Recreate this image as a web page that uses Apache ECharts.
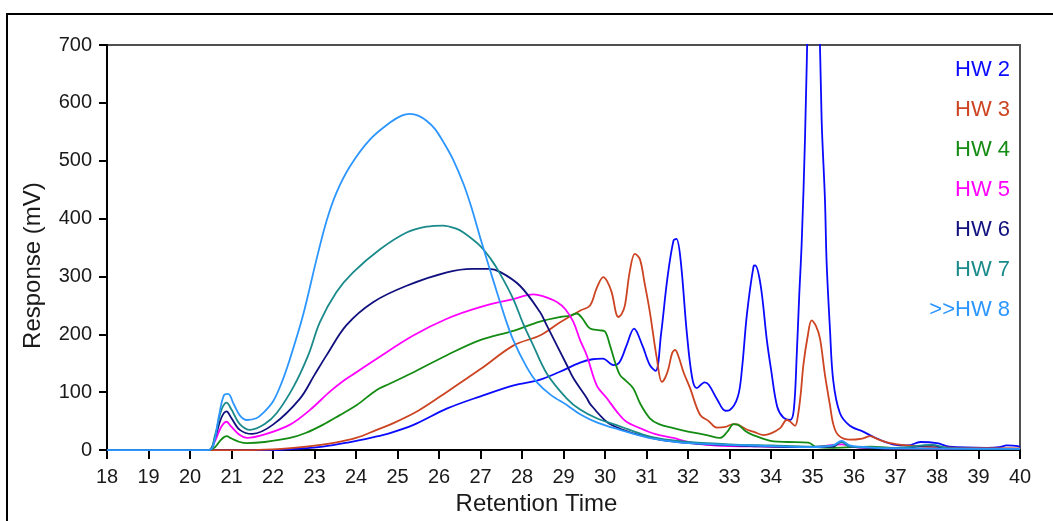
<!DOCTYPE html>
<html>
<head>
<meta charset="utf-8">
<title>Retention Time chromatogram</title>
<script src="https://cdn.jsdelivr.net/npm/echarts@6/dist/echarts.min.js"></script>
<style>
  html, body { margin: 0; padding: 0; background: #ffffff; }
  #chart { width: 1053px; height: 521px; }
</style>
</head>
<body>
<div id="chart"></div>
<script>
// Detector response (mV) against retention time (min), one trace per sample.
const seriesNames = ['HW 2', 'HW 3', 'HW 4', 'HW 5', 'HW 6', 'HW 7', 'HW 8'];
const seriesColors = ['#0a0aff', '#cc4422', '#148c14', '#ff00ff', '#10107e', '#1a8a8a', '#2c96ff'];
const legendLabels = ['HW 2', 'HW 3', 'HW 4', 'HW 5', 'HW 6', 'HW 7', '>>HW 8'];

const xTicks = { min: 18, max: 40, step: 1 };
const yTicks = { min: 0, max: 700, step: 100 };

const hw2 = [[18,0],[22.0,0],[22.5,2],[23.2,6],[23.8,13],[24.4,22],[24.8,29],[25.4,44],[26.2,72],[27.0,93],[27.8,112],[28.4,121],[28.9,135],[29.4,151],[29.7,157],[29.95,158],[30.2,147],[30.35,152],[30.52,181],[30.7,210],[30.9,181],[31.08,147],[31.22,137],[31.35,200],[31.5,295],[31.65,362],[31.72,365],[31.82,330],[31.97,204],[32.1,125],[32.21,107],[32.4,117],[32.5,113],[32.7,88],[32.9,68],[33.0,69],[33.2,92],[33.3,140],[33.42,235],[33.58,318],[33.62,319],[33.75,285],[33.9,190],[34.0,140],[34.15,75],[34.3,56],[34.46,52],[34.55,70],[34.62,164],[34.68,267],[34.74,359],[34.82,540],[34.9,800],[35.0,1150],[35.15,800],[35.22,571],[35.3,433],[35.34,325],[35.42,210],[35.5,120],[35.66,64],[35.9,42],[36.22,32],[36.55,20],[37.0,9],[37.3,8],[37.6,14],[38.0,12],[38.3,6],[39.2,4],[39.5,5],[39.68,8],[39.95,7],[40,5]];

const hw3 = [[18,0],[21.5,0],[22.2,2],[22.8,6],[23.5,13],[24.0,21],[24.5,35],[24.82,44],[25.5,68],[26.2,101],[27.0,140],[27.8,181],[28.43,198],[28.92,221],[29.4,241],[29.64,250],[29.8,280],[29.96,299],[30.05,292],[30.16,273],[30.32,230],[30.4,235],[30.48,250],[30.6,310],[30.72,339],[30.84,330],[30.95,290],[31.08,239],[31.25,158],[31.37,118],[31.45,125],[31.53,141],[31.62,168],[31.69,173],[31.78,160],[31.89,135],[32.05,107],[32.29,61],[32.5,50],[32.69,39],[32.9,40],[33.09,45],[33.2,44],[33.4,36],[33.57,32],[33.82,26],[34.0,29],[34.22,38],[34.38,52],[34.45,50],[34.58,42],[34.65,60],[34.72,100],[34.78,147],[34.88,195],[34.98,224],[35.08,215],[35.18,193],[35.3,130],[35.42,78],[35.5,45],[35.62,26],[35.9,18],[36.2,20],[36.39,24],[36.6,18],[36.87,12],[37.27,8],[37.7,6],[38.5,4],[40,3]];

const hw4 = [[18,0],[20.45,0],[20.6,5],[20.75,18],[20.88,24],[21.0,20],[21.2,14],[21.37,12],[21.8,14],[22.41,21],[22.8,30],[23.21,44],[23.6,60],[24.02,78],[24.5,104],[24.82,115],[25.4,135],[26.19,164],[26.99,190],[27.79,206],[28.43,222],[28.92,230],[29.15,232],[29.32,236],[29.45,228],[29.64,210],[29.88,207],[30.0,205],[30.12,181],[30.25,150],[30.36,130],[30.5,120],[30.68,107],[30.85,80],[31.08,55],[31.3,45],[31.65,38],[32.0,32],[32.45,26],[32.77,21],[32.95,32],[33.1,45],[33.2,44],[33.4,32],[33.57,26],[34.06,15],[34.4,14],[34.9,13],[35.1,5],[35.5,4],[36.4,6],[37,3],[40,2]];

const hw5 = [[18,0],[20.45,0],[20.6,15],[20.75,40],[20.88,49],[21.0,40],[21.2,26],[21.37,21],[21.8,27],[22.41,44],[22.9,70],[23.37,101],[23.7,120],[24.02,135],[24.5,158],[25.38,198],[26.19,227],[26.99,247],[27.79,261],[28.27,269],[28.5,266],[28.84,256],[29.05,243],[29.24,221],[29.4,190],[29.56,164],[29.8,112],[30.04,90],[30.28,67],[30.5,50],[30.84,38],[31.2,28],[31.65,21],[32.0,14],[32.45,9],[33,7],[34,6],[35,5],[35.7,10],[36,5],[37,3],[40,2]];

const hw6 = [[18,0],[20.45,0],[20.6,20],[20.75,55],[20.88,67],[21.0,55],[21.2,35],[21.5,28],[22.0,44],[22.65,89],[23.0,130],[23.3,165],[23.77,216],[24.42,256],[25.22,284],[26.19,307],[26.8,313],[27.2,313],[27.47,308],[27.95,284],[28.43,239],[28.6,215],[29.08,147],[29.24,124],[29.56,90],[29.64,80],[30.04,49],[30.4,36],[30.84,26],[31.5,16],[32.5,10],[33.5,7],[34.5,5],[35.5,6],[35.7,15],[35.9,6],[37,3],[37.9,8],[38.2,3],[40,2]];

const hw7 = [[18,0],[20.45,0],[20.6,25],[20.75,68],[20.88,82],[21.0,70],[21.2,45],[21.45,35],[21.8,45],[22.09,64],[22.5,110],[22.85,164],[23.13,221],[23.53,273],[23.93,307],[24.58,347],[25.22,376],[25.7,386],[26.1,388],[26.4,383],[26.59,376],[26.99,353],[27.25,330],[27.47,305],[27.79,261],[28.03,218],[28.27,181],[28.6,132],[29.08,89],[29.4,70],[29.8,55],[30.36,41],[31,25],[31.5,18],[32,14],[33,10],[34,8],[35,6],[35.5,8],[35.7,14],[35.9,6],[37,4],[37.9,9],[38.3,3],[40,2]];

const hw8 = [[18,0],[20.4,0],[20.55,5],[20.7,60],[20.82,95],[20.92,97],[21.05,80],[21.2,60],[21.37,52],[21.6,55],[21.76,64],[22.0,84],[22.2,115],[22.41,158],[22.72,232],[23.05,330],[23.29,396],[23.53,445],[23.86,491],[24.34,537],[24.82,566],[25.1,578],[25.3,581],[25.5,578],[25.7,569],[25.9,555],[26.1,533],[26.34,502],[26.6,458],[26.8,415],[26.99,368],[27.2,318],[27.4,272],[27.6,227],[27.79,190],[28.1,145],[28.35,118],[28.7,95],[29.08,78],[29.4,62],[29.8,48],[30.36,35],[31,22],[31.5,16],[32,12],[33,9],[34,7],[35,5],[35.5,8],[35.7,16],[35.9,8],[36.5,4],[37,3],[40,2]];

const seriesData = [hw2, hw3, hw4, hw5, hw6, hw7, hw8];

const FONT = "'Liberation Sans', Arial, sans-serif";
const chart = echarts.init(document.getElementById('chart'), null, { renderer: 'canvas' });

const legendTexts = legendLabels.map((label, i) => ({
  type: 'text',
  right: 43,
  top: 59 + i * 40,
  z: 10,
  style: { text: label, fill: seriesColors[i], font: '22px ' + FONT }
}));

chart.setOption({
  backgroundColor: '#ffffff',
  animation: false,
  grid: {
    left: 107, top: 45, right: 33, bottom: 69,
    show: true, borderColor: '#505050', borderWidth: 2, backgroundColor: 'transparent'
  },
  xAxis: {
    type: 'value',
    min: xTicks.min, max: xTicks.max, interval: xTicks.step,
    name: 'Retention Time',
    nameLocation: 'middle',
    nameGap: 41,
    nameTextStyle: { fontFamily: FONT, fontSize: 24, color: '#1a1a1a', padding: [0, 54, 0, 0] },
    axisLine: { lineStyle: { color: '#000', width: 2 } },
    axisTick: { inside: false, length: 9, lineStyle: { color: '#000', width: 2 } },
    axisLabel: { fontFamily: FONT, fontSize: 20, color: '#1a1a1a', margin: 17 },
    splitLine: { show: false }
  },
  yAxis: {
    type: 'value',
    min: yTicks.min, max: yTicks.max, interval: yTicks.step,
    name: 'Response (mV)',
    nameLocation: 'middle',
    nameGap: 62,
    nameTextStyle: { fontFamily: FONT, fontSize: 24, color: '#1a1a1a', padding: [0, 36, 0, 0] },
    axisLine: { show: true, lineStyle: { color: '#000', width: 2 } },
    axisTick: { show: true, inside: false, length: 8, lineStyle: { color: '#000', width: 2 } },
    axisLabel: { fontFamily: FONT, fontSize: 20, color: '#1a1a1a', margin: 15 },
    splitLine: { show: false }
  },
  series: seriesNames.map((name, i) => ({
    name: name,
    type: 'line',
    data: seriesData[i],
    showSymbol: false,
    smooth: 0.35,
    clip: true,
    lineStyle: { color: seriesColors[i], width: 1.8 },
    itemStyle: { color: seriesColors[i] },
    z: 2 + i
  })),
  graphic: [
    {
      type: 'rect',
      shape: { x: 7, y: 14, width: 1100, height: 600 },
      style: { fill: 'none', stroke: '#000', lineWidth: 2 },
      silent: true,
      z: 20
    }
  ].concat(legendTexts)
});
</script>
</body>
</html>
